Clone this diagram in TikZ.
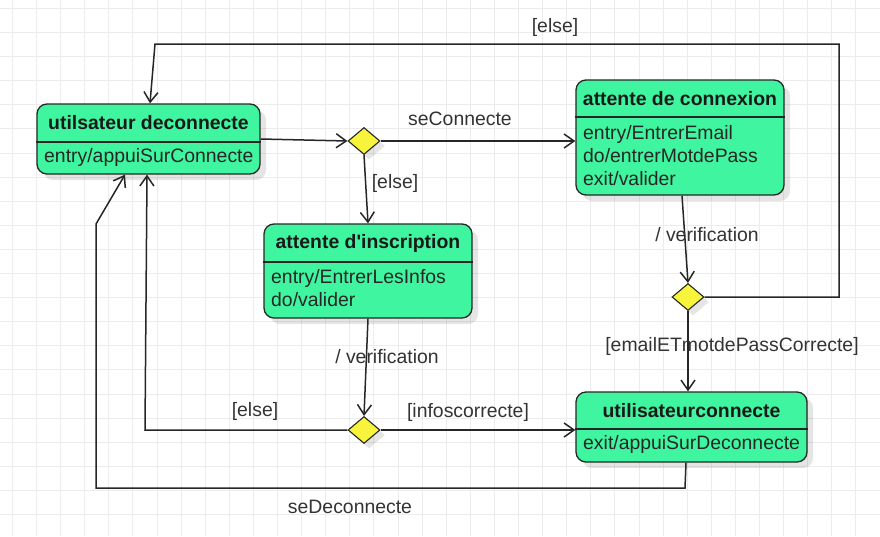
\documentclass[tikz,border=0pt]{standalone}
\usepackage{fontspec}
\setmainfont{Liberation Sans}
\usetikzlibrary{arrows.meta,shapes.geometric,shadows}
\definecolor{stfill}{HTML}{40F5A0}
\definecolor{dmfill}{HTML}{F8F43C}
\definecolor{edge}{HTML}{262626}
\definecolor{lbl}{HTML}{333333}
\definecolor{gridc}{HTML}{ECECEC}
\begin{document}
\begin{tikzpicture}[x=1pt,y=-1pt,
  every node/.style={font=\fontsize{19.4}{23}\selectfont},
  statebox/.style={draw=edge, line width=1.3pt, fill=stfill, rounded corners=10pt, inner sep=0pt,
    drop shadow={shadow xshift=6pt, shadow yshift=-6pt, fill=black, opacity=0.10}},
  dec/.style={diamond, draw=edge, line width=1.1pt, fill=dmfill, inner sep=0pt, minimum width=32pt, minimum height=27pt,
    drop shadow={shadow xshift=5pt, shadow yshift=-5pt, fill=black, opacity=0.10}},
  titletxt/.style={font=\fontsize{19.4}{23}\selectfont\bfseries, text=black!90, inner sep=0pt},
  bodytxt/.style={text=black!85, align=left, inner sep=0pt, anchor=west},
  divline/.style={draw=edge, line width=1.3pt},
  conn/.style={draw=edge, line width=1.5pt, -{Straight Barb[length=10pt,width=14pt,line width=1.5pt]}},
  lab/.style={text=lbl, inner sep=0pt},
  gridline/.style={draw=gridc, line width=0.8pt}
]
\useasboundingbox (0,0) rectangle (880,536);
\fill[white] (0,0) rectangle (880,536);
\foreach \i in {0,...,36} \draw[gridline] (12.3+24.1*\i,0) -- (12.3+24.1*\i,536);
\foreach \j in {0,...,22} \draw[gridline] (0,8.3+24.1*\j) -- (880,8.3+24.1*\j);

% states
\node[statebox, minimum width=223pt, minimum height=70pt] (A) at (148.5,139) {};
\draw[divline] (A.west |- 0,142) -- (A.east |- 0,142);
\node[titletxt] (At) at (148.5,123) {utilsateur deconnecte};
\node[bodytxt] (Ab) at (44,157) {entry/appuiSurConnecte};

\node[statebox, minimum width=208pt, minimum height=115pt] (B) at (680,137.5) {};
\draw[divline] (B.west |- 0,117) -- (B.east |- 0,117);
\node[titletxt] (Bt) at (680,99) {attente de connexion};
\node[bodytxt] (Bb) at (583,156) {entry/EntrerEmail\\do/entrerMotdePass\\exit/valider};

\node[statebox, minimum width=208pt, minimum height=94pt] (C) at (368,271) {};
\draw[divline] (C.west |- 0,262) -- (C.east |- 0,262);
\node[titletxt] (Ct) at (368,243) {attente d\textquotesingle inscription};
\node[bodytxt] (Cb) at (271,288.5) {entry/EntrerLesInfos\\do/valider};

\node[statebox, minimum width=231pt, minimum height=70pt] (D) at (691.5,427) {};
\draw[divline] (D.west |- 0,429) -- (D.east |- 0,429);
\node[titletxt] (Dt) at (691.5,411) {utilisateurconnecte};
\node[bodytxt] (Db) at (583,444) {exit/appuiSurDeconnecte};

% decisions
\node[dec] (D1) at (364,141) {};
\node[dec] (D2) at (688,297) {};
\node[dec] (D3) at (364,430) {};

% helper coordinates
\coordinate (r1) at (839,44);
\coordinate (r0) at (155,44);
\coordinate (l1) at (145,430);
\coordinate (s1) at (685,488);
\coordinate (s2) at (96,488);
\coordinate (s3) at (96,224);

% connectors
\draw[conn] (A.east) -- (D1.west);
\draw[conn] (D1.east) -- (D1.east -| B.west);
\draw[conn] (D1.south) -- (C.north);
\draw[conn] ([xshift=2pt]B.south) -- (D2.north);
\draw[conn] (D2.east) -| (r1) -- (r0) -- ([xshift=1.5pt]A.north);
\draw[conn] (D2.south) -- (D2.south |- D.north);
\draw[conn] (C.south) -- (D3.north);
\draw[conn] (D3.east) -- (D3.east -| D.west);
\draw[conn] (D3.west) -- (l1) -- ([xshift=-1.5pt]A.south);
\draw[conn] ([xshift=-5.5pt]D.south) -- (s1) -- (s2) -- (s3) -- ([xshift=-23.5pt]A.south);

% labels
\node[lab] (L1) at (555,27) {[else]};
\node[lab] (L2) at (460,119) {seConnecte};
\node[lab] (L3) at (395,183) {[else]};
\node[lab] (L4) at (707,235) {/ verification};
\node[lab] (L5) at (732,346) {[emailETmotdePassCorrecte]};
\node[lab] (L6) at (387,357) {/ verification};
\node[lab] (L7) at (255,411) {[else]};
\node[lab] (L8) at (468,412) {[infoscorrecte]};
\node[lab] (L9) at (350,507) {seDeconnecte};
\end{tikzpicture}
\end{document}
